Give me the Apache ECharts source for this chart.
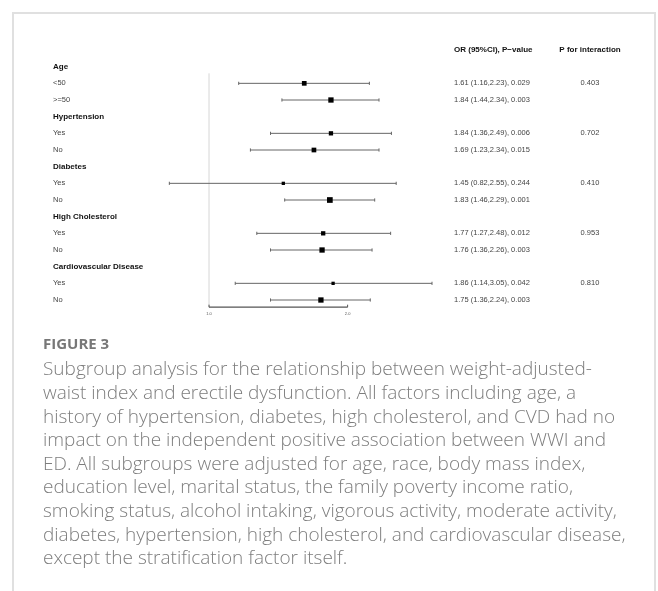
<!DOCTYPE html>
<html>
<head>
<meta charset="utf-8">
<script src="https://cdn.jsdelivr.net/npm/echarts@6/dist/echarts.min.js"></script>
<style>
html,body{margin:0;padding:0;background:#fff;}
#chart{width:658px;height:591px;}
</style>
</head>
<body>
<div id="chart"></div>
<script>
// ---- data ----
const rowLabels = ['', 'Age', '<50', '>=50', 'Hypertension', 'Yes', 'No', 'Diabetes', 'Yes', 'No',
  'High Cholesterol', 'Yes', 'No', 'Cardiovascular Disease', 'Yes', 'No'];
const headerRows = [1, 4, 7, 10, 13];
const orEst  = [null, null, 1.61, 1.84, null, 1.84, 1.69, null, 1.45, 1.83, null, 1.77, 1.76, null, 1.86, 1.75];
const ciLow  = [null, null, 1.16, 1.44, null, 1.36, 1.23, null, 0.82, 1.46, null, 1.27, 1.36, null, 1.14, 1.36];
const ciHigh = [null, null, 2.23, 2.34, null, 2.49, 2.34, null, 2.55, 2.29, null, 2.48, 2.26, null, 3.05, 2.24];
const pValue = ['', '', '0.029', '0.003', '', '0.006', '0.015', '', '0.244', '0.001', '', '0.012', '0.003', '', '0.042', '0.003'];
const pInteraction = ['', '', '0.403', '', '', '0.702', '', '', '0.410', '', '', '0.953', '', '', '0.810', ''];
const weights = [0, 0, 4.7, 5.3, 0, 4.3, 4.7, 0, 3.3, 5.7, 0, 4.3, 5.3, 0, 3.3, 5.3];
const colHeaders = ['OR (95%CI), P\u2212value', 'P for interaction'];
const refValue = 1.0;
const xTicks = [1.0, 2.0];
const xTickLabels = ['1.0', '2.0'];
const figureLabel = 'FIGURE 3';
const captionLines = [
  'Subgroup analysis for the relationship between weight-adjusted-',
  'waist index and erectile dysfunction. All factors including age, a',
  'history of hypertension, diabetes, high cholesterol, and CVD had no',
  'impact on the independent positive association between WWI and',
  'ED. All subgroups were adjusted for age, race, body mass index,',
  'education level, marital status, the family poverty income ratio,',
  'smoking status, alcohol intaking, vigorous activity, moderate activity,',
  'diabetes, hypertension, high cholesterol, and cardiovascular disease,',
  'except the stratification factor itself.'
];

// ---- layout ----
const FONT = 'Liberation Sans, Arial, Helvetica, sans-serif';
const gridLeft = 164.4, gridW = 277.2, gridTop = 41.67, gridH = 266.67;
const axisRow = 15.43, refTopRow = 1.4;
const rowIdx = rowLabels.map((_, i) => String(i));

const orText = rowLabels.map((_, i) => i === 0 ? colHeaders[0] :
  (orEst[i] == null ? '' : orEst[i].toFixed(2) + ' (' + ciLow[i].toFixed(2) + ',' + ciHigh[i].toFixed(2) + '), ' + pValue[i]));
const piText = rowLabels.map((_, i) => i === 0 ? colHeaders[1] : pInteraction[i]);

const forestData = [];
rowLabels.forEach((_, i) => {
  if (orEst[i] != null) forestData.push([i, orEst[i], ciLow[i], ciHigh[i], weights[i]]);
});

const rich = {
  h: {fontFamily: FONT, fontWeight: 'bold', fontSize: 8, color: '#111'},
  n: {fontFamily: FONT, fontSize: 7.5, color: '#444'}
};

const chart = echarts.init(document.getElementById('chart'), null, {renderer: 'canvas'});

const graphics = [
  {type: 'rect', shape: {x: 13, y: 13, width: 642, height: 620},
   style: {fill: 'none', stroke: '#e0e0e0', lineWidth: 2}, silent: true},
  {type: 'text', x: 43, y: 345,
   style: {text: figureLabel, fontFamily: 'Open Sans, sans-serif', fontWeight: 'bold', fontSize: 15,
           fill: '#777777', verticalAlign: 'middle', align: 'left'}}
];
captionLines.forEach((t, i) => {
  graphics.push({type: 'text', x: 43, y: 370 + 23.6 * i,
    style: {text: t, fontFamily: 'Open Sans, sans-serif', fontWeight: 300, fontSize: 19, fill: '#7d7d7d',
            verticalAlign: 'middle', align: 'left'}});
});

const option = {
  animation: false,
  backgroundColor: '#ffffff',
  grid: {left: gridLeft, top: gridTop, width: gridW, height: gridH, containLabel: false},
  xAxis: {type: 'log', min: 0.8, max: 3.2, show: false},
  yAxis: [
    {type: 'value', min: -0.5, max: 15.5, inverse: true, show: false},
    {type: 'category', data: rowIdx, inverse: true, position: 'left',
     axisLine: {show: false}, axisTick: {show: false}, splitLine: {show: false},
     axisLabel: {interval: 0, align: 'left', margin: gridLeft - 53, rich: rich,
       formatter: (v) => { const i = +v; const t = rowLabels[i];
         if (!t) return ''; return headerRows.includes(i) ? '{h|' + t + '}' : '{n|' + t + '}'; }}},
    {type: 'category', data: rowIdx, inverse: true, position: 'right',
     axisLine: {show: false}, axisTick: {show: false}, splitLine: {show: false},
     axisLabel: {interval: 0, align: 'left', margin: 454 - (gridLeft + gridW), rich: rich,
       formatter: (v) => { const i = +v; const t = orText[i];
         if (!t) return ''; return i === 0 ? '{h|' + t + '}' : '{n|' + t + '}'; }}},
    {type: 'category', data: rowIdx, inverse: true, position: 'right', offset: 590 - (gridLeft + gridW),
     axisLine: {show: false}, axisTick: {show: false}, splitLine: {show: false},
     axisLabel: {interval: 0, align: 'center', margin: 0, rich: rich,
       formatter: (v) => { const i = +v; const t = piText[i];
         if (!t) return ''; return i === 0 ? '{h|' + t + '}' : '{n|' + t + '}'; }}}
  ],
  graphic: graphics,
  series: [
    {
      type: 'custom', yAxisIndex: 0, clip: false, silent: true,
      data: [[axisRow, refValue]],
      encode: {x: 1, y: 0},
      renderItem: function (params, api) {
        const top = api.coord([refValue, refTopRow]);
        const bot = api.coord([refValue, axisRow]);
        const a0 = api.coord([xTicks[0], axisRow]);
        const a1 = api.coord([xTicks[xTicks.length - 1], axisRow]);
        const children = [
          {type: 'line', shape: {x1: top[0], y1: top[1], x2: bot[0], y2: bot[1]},
           style: {stroke: '#d6d6d6', lineWidth: 1}},
          {type: 'line', shape: {x1: a0[0], y1: a0[1], x2: a1[0], y2: a1[1]},
           style: {stroke: '#555', lineWidth: 1.2}}
        ];
        xTicks.forEach((t, k) => {
          const p = api.coord([t, axisRow]);
          children.push({type: 'line', shape: {x1: p[0], y1: p[1], x2: p[0], y2: p[1] - 2.5},
            style: {stroke: '#555', lineWidth: 1}});
          children.push({type: 'text', x: p[0], y: p[1] + 7,
            style: {text: xTickLabels[k], fontFamily: FONT, fontSize: 4, fill: '#555',
                    align: 'center', verticalAlign: 'middle'}});
        });
        return {type: 'group', children: children};
      }
    },
    {
      type: 'custom', yAxisIndex: 0, clip: false, silent: true,
      data: forestData,
      encode: {x: [1, 2, 3], y: 0},
      renderItem: function (params, api) {
        const r = api.value(0);
        const c = api.coord([api.value(1), r]);
        const l = api.coord([api.value(2), r]);
        const h = api.coord([api.value(3), r]);
        const s = api.value(4);
        return {type: 'group', children: [
          {type: 'line', shape: {x1: l[0], y1: l[1], x2: h[0], y2: h[1]},
           style: {stroke: '#666', lineWidth: 1}},
          {type: 'line', shape: {x1: l[0], y1: l[1] - 1.6, x2: l[0], y2: l[1] + 1.6},
           style: {stroke: '#666', lineWidth: 1}},
          {type: 'line', shape: {x1: h[0], y1: h[1] - 1.6, x2: h[0], y2: h[1] + 1.6},
           style: {stroke: '#666', lineWidth: 1}},
          {type: 'rect', shape: {x: c[0] - s / 2, y: c[1] - s / 2, width: s, height: s},
           style: {fill: '#000'}}
        ]};
      }
    }
  ]
};
chart.setOption(option);
</script>
</body>
</html>
